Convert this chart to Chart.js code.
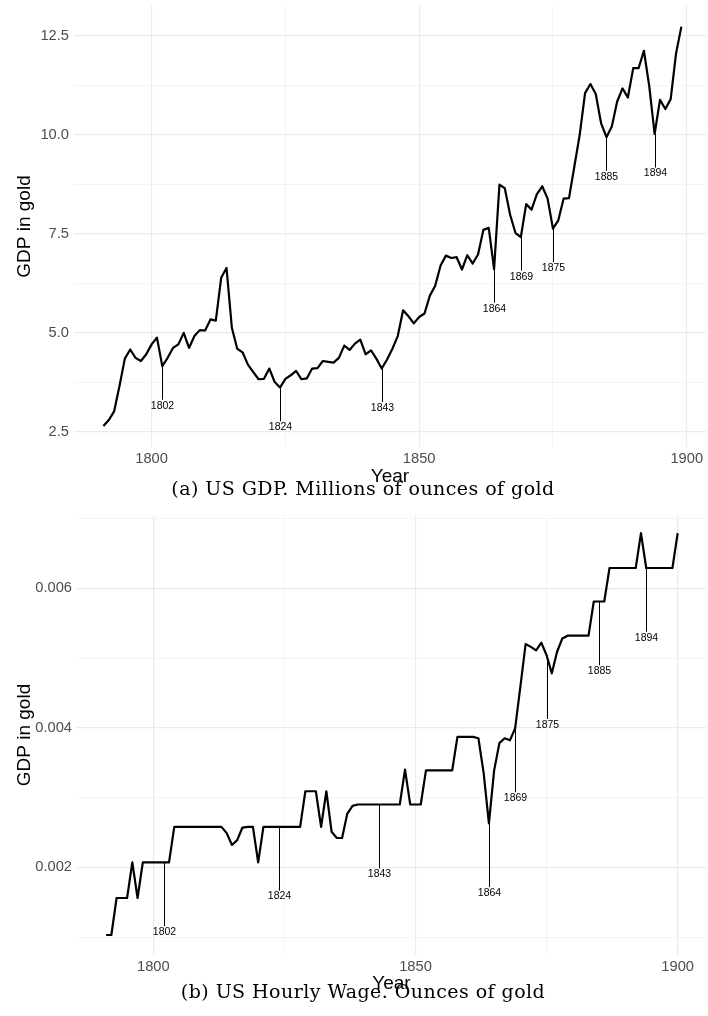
<!DOCTYPE html>
<html>
<head>
<meta charset="utf-8">
<script src="https://cdn.jsdelivr.net/npm/chart.js@4.4.1/dist/chart.umd.min.js"></script>
<style>
  html, body { margin: 0; padding: 0; background: #ffffff; }
  body { width: 708px; height: 1016px; position: relative; overflow: hidden; }
  .panel { position: absolute; left: 0; width: 708px; height: 508px; }
  .caption { position: absolute; font-family: "DejaVu Serif", serif; font-size: 19px; line-height: 22px;
             letter-spacing: 0.45px; color: #000; white-space: nowrap; transform: translateX(-50%); z-index: 5; }
</style>
</head>
<body>
<div class="panel" style="top:0px"><canvas id="gdpChart"></canvas></div>
<div class="panel" style="top:508px"><canvas id="wageChart"></canvas></div>
<div class="caption" id="capA" style="left:363px; top:477px;">(a) US GDP. Millions of ounces of gold</div>
<div class="caption" id="capB" style="left:363px; top:980px;">(b) US Hourly Wage. Ounces of gold</div>
<script>
// ---------------- DATA ----------------
const gdpStartYear = 1791;
const gdpValues = [
  2.65, 2.80, 3.02, 3.66, 4.35, 4.58, 4.37, 4.29, 4.46, 4.71,
  4.88, 4.16, 4.37, 4.62, 4.71, 5.00, 4.62, 4.92, 5.07, 5.06,
  5.34, 5.31, 6.39, 6.64, 5.13, 4.60, 4.51, 4.20, 4.01, 3.83,
  3.84, 4.10, 3.76, 3.62, 3.84, 3.93, 4.04, 3.83, 3.85, 4.10,
  4.11, 4.29, 4.27, 4.25, 4.37, 4.68, 4.57, 4.73, 4.83, 4.46,
  4.56, 4.35, 4.10, 4.33, 4.60, 4.92, 5.57, 5.42, 5.24, 5.40,
  5.49, 5.94, 6.19, 6.70, 6.95, 6.89, 6.91, 6.60, 6.96, 6.75,
  6.98, 7.60, 7.65, 6.61, 8.74, 8.65, 7.98, 7.52, 7.42, 8.25,
  8.11, 8.50, 8.70, 8.39, 7.63, 7.84, 8.39, 8.40, 9.20, 10.00,
  11.05, 11.28, 11.03, 10.29, 9.94, 10.21, 10.84, 11.17, 10.94, 11.68,
  11.68, 12.12, 11.22, 10.02, 10.88, 10.65, 10.90, 12.05, 12.73
];

const wageStartYear = 1791;
const wageValues = [
  0.00103, 0.00103, 0.00156, 0.00156, 0.00156, 0.00207, 0.00156, 0.00207, 0.00207, 0.00207,
  0.00207, 0.00207, 0.00207, 0.00258, 0.00258, 0.00258, 0.00258, 0.00258, 0.00258, 0.00258,
  0.00258, 0.00258, 0.00258, 0.00249, 0.00232, 0.00239, 0.00257, 0.00258, 0.00258, 0.00207,
  0.00258, 0.00258, 0.00258, 0.00258, 0.00258, 0.00258, 0.00258, 0.00258, 0.00309, 0.00309,
  0.00309, 0.00258, 0.00309, 0.00251, 0.00242, 0.00242, 0.00277, 0.00288, 0.00290, 0.00290,
  0.00290, 0.00290, 0.00290, 0.00290, 0.00290, 0.00290, 0.00290, 0.00340, 0.00290, 0.00290,
  0.00290, 0.00339, 0.00339, 0.00339, 0.00339, 0.00339, 0.00339, 0.00387, 0.00387, 0.00387,
  0.00387, 0.00385, 0.00335, 0.00263, 0.00339, 0.00378, 0.00385, 0.00382, 0.00399, 0.00459,
  0.00520, 0.00516, 0.00511, 0.00522, 0.00504, 0.00478, 0.00509, 0.00528, 0.00532, 0.00532,
  0.00532, 0.00532, 0.00532, 0.00581, 0.00581, 0.00581, 0.00629, 0.00629, 0.00629, 0.00629,
  0.00629, 0.00629, 0.00679, 0.00629, 0.00629, 0.00629, 0.00629, 0.00629, 0.00629, 0.00679
];

const annotatedYears = [1802, 1824, 1843, 1864, 1869, 1875, 1885, 1894];

const xTickLabels = [1800, 1850, 1900];
const gdpTickLabels = [2.5, 5.0, 7.5, 10.0, 12.5];
const wageTickLabels = [0.002, 0.004, 0.006];

// ---------------- HELPERS ----------------
function toPoints(start, values) {
  return values.map((v, i) => ({ x: start + i, y: v }));
}

const annotationPlugin = {
  id: 'yearMarks',
  afterDatasetsDraw(chart) {
    const opts = chart.options.plugins.yearMarks;
    if (!opts) return;
    const { ctx } = chart;
    const xs = chart.scales.x, ys = chart.scales.y;
    const pts = chart.data.datasets[0].data;
    ctx.save();
    ctx.strokeStyle = '#000';
    ctx.fillStyle = '#000';
    ctx.lineWidth = 1;
    ctx.font = '10.5px "Liberation Sans", Arial, sans-serif';
    ctx.textAlign = 'center';
    ctx.textBaseline = 'middle';
    opts.years.forEach(yr => {
      const p = pts.find(d => d.x === yr);
      if (!p) return;
      const px = Math.round(xs.getPixelForValue(yr)) + 0.5;
      const py = ys.getPixelForValue(p.y);
      const ly = ys.getPixelForValue(p.y - opts.offset);
      ctx.beginPath();
      ctx.moveTo(px, py);
      ctx.lineTo(px, ly - 6);
      ctx.stroke();
      ctx.fillText(String(yr), px, ly);
    });
    ctx.restore();
  }
};

function makeChart(id, cfg) {
  const gridColor = (isMajor) => (c) => isMajor(c.tick.value) ? '#ebebeb' : '#f1f1f1';
  const gridWidth = (isMajor) => (c) => isMajor(c.tick.value) ? 1.2 : 0.8;
  const isXMajor = v => xTickLabels.some(t => Math.abs(t - v) < 1e-6);
  const isYMajor = v => cfg.yLabels.some(t => Math.abs(t - v) < cfg.yStep * 1e-3);
  return new Chart(document.getElementById(id), {
    type: 'line',
    data: {
      datasets: [{
        data: toPoints(cfg.start, cfg.values),
        borderColor: '#000000',
        borderWidth: 2.2,
        pointRadius: 0,
        tension: 0,
        fill: false,
        borderJoinStyle: 'round'
      }]
    },
    options: {
      responsive: true,
      maintainAspectRatio: false,
      animation: false,
      layout: { padding: { top: cfg.padTop, right: 2, left: 0, bottom: 0 } },
      plugins: {
        legend: { display: false },
        tooltip: { enabled: false },
        yearMarks: { years: annotatedYears, offset: cfg.labelOffset }
      },
      scales: {
        x: {
          type: 'linear',
          min: cfg.xMin, max: cfg.xMax,
          border: { display: false },
          grid: { drawTicks: false, color: gridColor(isXMajor), lineWidth: gridWidth(isXMajor) },
          ticks: {
            stepSize: 25, includeBounds: false, autoSkip: false, maxRotation: 0,
            padding: 3, color: '#4d4d4d',
            font: { family: '"Liberation Sans", Arial, sans-serif', size: 14.7 },
            callback: v => isXMajor(v) ? String(v) : ''
          },
          title: {
            display: true, text: 'Year', color: '#000',
            font: { family: '"Liberation Sans", Arial, sans-serif', size: 19 },
            padding: { top: 0, bottom: cfg.xTitlePad }
          },
          afterFit: s => { s.height = 61; s.paddingLeft = 0; s.paddingRight = 0; }
        },
        y: {
          type: 'linear',
          min: cfg.yMin, max: cfg.yMax,
          border: { display: false },
          grid: { drawTicks: false, color: gridColor(isYMajor), lineWidth: gridWidth(isYMajor) },
          ticks: {
            stepSize: cfg.yStep, includeBounds: false, autoSkip: false,
            padding: 5, color: '#4d4d4d',
            font: { family: '"Liberation Sans", Arial, sans-serif', size: 14.7 },
            callback: v => isYMajor(v) ? cfg.fmt(v) : ''
          },
          title: {
            display: true, text: 'GDP in gold', color: '#000',
            font: { family: '"Liberation Sans", Arial, sans-serif', size: 19 },
            padding: { top: 13, bottom: 0 }
          },
          afterFit: s => { s.width = cfg.yWidth; s.paddingTop = 0; s.paddingBottom = 0; }
        }
      }
    },
    plugins: [annotationPlugin]
  });
}

makeChart('gdpChart', {
  start: gdpStartYear, values: gdpValues,
  xMin: 1785.5, xMax: 1903.6,
  yMin: 2.12, yMax: 13.25, yStep: 1.25, yLabels: gdpTickLabels,
  fmt: v => v.toFixed(1),
  labelOffset: 1.0,
  padTop: 6, yWidth: 74, xTitlePad: 19.6
});

makeChart('wageChart', {
  start: wageStartYear, values: wageValues,
  xMin: 1785.45, xMax: 1905.4,
  yMin: 0.000743, yMax: 0.00705, yStep: 0.001, yLabels: wageTickLabels,
  fmt: v => v.toFixed(3),
  labelOffset: 0.001,
  padTop: 7, yWidth: 77, xTitlePad: 20.6
});
</script>
</body>
</html>
